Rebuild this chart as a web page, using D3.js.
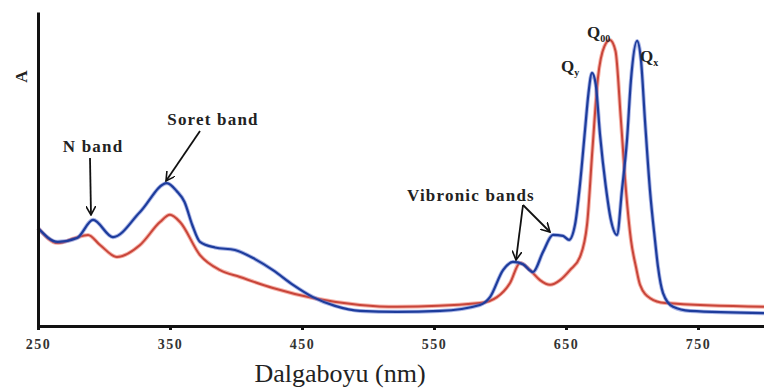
<!DOCTYPE html>
<html lang="en">
<head>
    <meta charset="UTF-8">
    <title>Absorption spectrum</title>
    <script src="https://d3js.org/d3.v7.min.js"></script>
    <style>
        body { margin: 0; background: #fff; }
        .tick text { font-family: "Liberation Serif", "Times New Roman", serif; font-weight: bold; font-size: 14px; letter-spacing: 1.5px; fill: #333; }
        .note { font-family: "Liberation Serif", "Times New Roman", serif; font-weight: bold; font-size: 17px; letter-spacing: 1.2px; fill: #222; }
    </style>
</head>
<body>
    <script>
        // wavelength (nm) and absorbance readings, blue spectrum
        const blueNm = [250, 265, 279.5, 291.7, 306.8, 327.3, 347.7, 355, 361, 367, 372.7, 384.1, 399.2, 414.4, 428, 443.2, 458.3, 475, 493.9, 522, 554.5, 584.8, 592.4, 602.3, 609.8, 617.4, 625, 632.6, 640.2, 647.7, 652.3, 656.8, 660.6, 664.4, 667, 669.7, 672.5, 675.8, 680, 684, 688.6, 692.4, 696.2, 699.2, 703.8, 706.8, 709.8, 713.6, 717.4, 719.7, 723.5, 731.1, 743.9, 800];
        const blueA = [0.312, 0.268, 0.280, 0.338, 0.283, 0.363, 0.455, 0.430, 0.395, 0.320, 0.268, 0.250, 0.242, 0.213, 0.178, 0.131, 0.092, 0.064, 0.048, 0.045, 0.048, 0.067, 0.092, 0.178, 0.204, 0.197, 0.172, 0.236, 0.290, 0.287, 0.274, 0.322, 0.451, 0.624, 0.740, 0.806, 0.770, 0.608, 0.449, 0.338, 0.290, 0.433, 0.592, 0.783, 0.908, 0.847, 0.656, 0.433, 0.274, 0.188, 0.105, 0.061, 0.048, 0.041];

        // red spectrum
        const redNm = [250, 265.2, 278, 287.9, 297, 309.8, 327.3, 342.4, 350, 357.6, 372.7, 387.9, 403, 428, 458.3, 493.9, 522, 584.8, 597.7, 607.6, 615.2, 622.7, 630.3, 637.9, 645.5, 653, 660.6, 666, 670, 674.2, 679, 683.3, 687.5, 691.6, 695.4, 699.2, 703, 706.1, 713.6, 725, 800];
        const redA = [0.312, 0.264, 0.280, 0.290, 0.258, 0.220, 0.258, 0.331, 0.354, 0.331, 0.226, 0.178, 0.156, 0.121, 0.089, 0.067, 0.061, 0.073, 0.092, 0.137, 0.201, 0.178, 0.146, 0.131, 0.146, 0.178, 0.220, 0.325, 0.561, 0.790, 0.890, 0.911, 0.876, 0.656, 0.433, 0.274, 0.188, 0.131, 0.089, 0.073, 0.061];

        const tickNm = [250, 350, 450, 550, 650, 750];

        const w = 764, h = 390;
        const plotLeft = 38, plotRight = 764, plotTop = 12, plotBottom = 326;

        const svg = d3.select("body").append("svg")
            .attr("width", w)
            .attr("height", h);

        const x = d3.scaleLinear().domain([250, 800]).range([plotLeft, plotRight]);
        const y = d3.scaleLinear().domain([0, 1]).range([plotBottom, plotTop]);

        const line = d3.line()
            .x(d => x(d[0]))
            .y(d => y(d[1]))
            .curve(d3.curveMonotoneX);

        const red = redNm.map((n, i) => [n, redA[i]]);
        const blue = blueNm.map((n, i) => [n, blueA[i]]);

        // soft halo then core, like the scanned lines
        svg.append("path").datum(red).attr("d", line)
            .attr("fill", "none").attr("stroke", "#f08070").attr("stroke-width", 4).attr("opacity", 0.6);
        svg.append("path").datum(red).attr("d", line)
            .attr("fill", "none").attr("stroke", "#c8453a").attr("stroke-width", 2);

        svg.append("path").datum(blue).attr("d", line)
            .attr("fill", "none").attr("stroke", "#5a70d0").attr("stroke-width", 4).attr("opacity", 0.5);
        svg.append("path").datum(blue).attr("d", line)
            .attr("fill", "none").attr("stroke", "#1d3c9c").attr("stroke-width", 2.2);

        // axes
        const xAxis = d3.axisBottom(x).tickValues(tickNm).tickSize(4).tickSizeOuter(0).tickPadding(9);
        const gx = svg.append("g")
            .attr("transform", "translate(0," + plotBottom + ")")
            .call(xAxis);
        gx.select(".domain").attr("stroke", "#111").attr("stroke-width", 3);
        gx.selectAll(".tick line").attr("stroke", "#111").attr("stroke-width", 3);

        const yAxis = d3.axisLeft(y).tickValues([]).tickSizeOuter(0);
        const gy = svg.append("g")
            .attr("transform", "translate(" + plotLeft + ",0)")
            .call(yAxis);
        gy.select(".domain").attr("stroke", "#111").attr("stroke-width", 3);

        svg.append("text")
            .attr("x", 340).attr("y", 382)
            .attr("text-anchor", "middle")
            .style("font-family", "\"Liberation Serif\", \"Times New Roman\", serif")
            .style("font-size", "26px")
            .style("fill", "#222")
            .text("Dalgaboyu (nm)");

        svg.append("text")
            .attr("transform", "translate(27,76) rotate(-90)")
            .attr("text-anchor", "middle")
            .attr("class", "note")
            .text("A");

        // annotations
        const marker = svg.append("defs").append("marker")
            .attr("id", "arr").attr("viewBox", "0 0 10 10")
            .attr("refX", 9).attr("refY", 5)
            .attr("markerWidth", 10).attr("markerHeight", 10)
            .attr("markerUnits", "userSpaceOnUse")
            .attr("orient", "auto-start-reverse");
        marker.append("path").attr("d", "M0,0 L9,5 L0,10").attr("fill", "none").attr("stroke", "#111").attr("stroke-width", 1.6);

        const arrows = [
            [90, 158, 91, 215],
            [200, 131, 166, 181],
            [523, 205, 516, 260],
            [523, 205, 550, 232]
        ];
        svg.selectAll(".arrow").data(arrows).enter().append("line")
            .attr("x1", d => d[0]).attr("y1", d => d[1])
            .attr("x2", d => d[2]).attr("y2", d => d[3])
            .attr("stroke", "#111").attr("stroke-width", 1.8)
            .attr("marker-end", "url(#arr)");

        svg.append("text").attr("class", "note").attr("x", 93).attr("y", 152).attr("text-anchor", "middle").text("N band");
        svg.append("text").attr("class", "note").attr("x", 213).attr("y", 125).attr("text-anchor", "middle").text("Soret band");
        svg.append("text").attr("class", "note").attr("x", 471).attr("y", 201).attr("text-anchor", "middle").text("Vibronic bands");

        const qLabels = [
            ["Q", "y", 561, 72],
            ["Q", "00", 587, 38],
            ["Q", "x", 640, 62]
        ];
        qLabels.forEach(q => {
            const t = svg.append("text").attr("class", "note").attr("x", q[2]).attr("y", q[3]).style("letter-spacing", "0px");
            t.append("tspan").text(q[0]);
            t.append("tspan").attr("dy", 4).style("font-size", "10px").text(q[1]);
        });
    </script>
</body>
</html>
